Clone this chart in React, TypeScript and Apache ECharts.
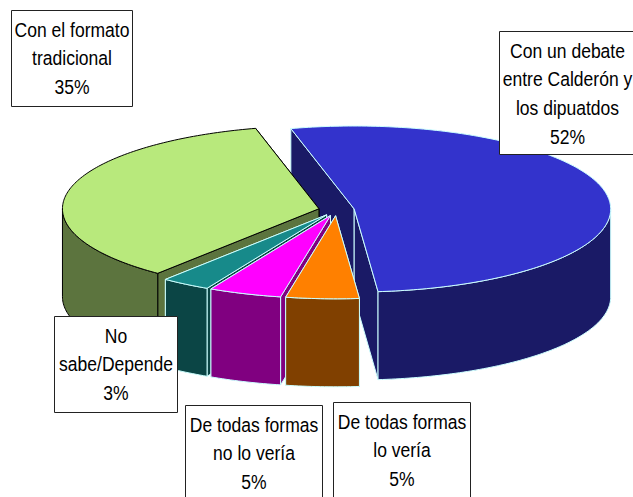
import React, { useEffect, useRef } from "react";
import * as echarts from "echarts";

const names = [
  "Con un debate\nentre Calderón y\nlos dipuatdos",
  "De todas formas\nlo vería",
  "De todas formas\nno lo vería",
  "No\nsabe/Depende",
  "Con el formato\ntradicional",
];
const values = [52.49, 4.6, 4.6, 3.1, 35.21];
const topColors = ["#3333CC", "#FF8000", "#FF00FF", "#178A8A", "#B8E97C"];
const sideColors = ["#1A1A66", "#804000", "#800080", "#0B4545", "#5C743E"];
const edgeColors = ["#CCFFFF", "#CCFFFF", "#CCFFFF", "#CCFFFF", "#000000"];
const drawOrder = [0, 4, 3, 2, 1];
const boxes = [
  [499.5, 31.5, 150, 123],
  [333.5, 402.5, 137, 110],
  [185.5, 405.5, 137, 110],
  [54.5, 316.5, 123, 96],
  [11.5, 10.5, 121, 96],
];

const CX = 336.5;
const CY = 210;
const RX = 256.5;
const RY = 83;
const DEPTH = 88;
const EXPLODE = 0.07;
const START = 104.3;
const total = values.reduce((a, b) => a + b, 0);

function pt(c: number[], deg: number, dy = 0) {
  const r = (deg * Math.PI) / 180;
  return [c[0] + RX * Math.cos(r), c[1] - RY * Math.sin(r) + dy];
}
function arc(c: number[], from: number, to: number, dy = 0) {
  const n = Math.max(2, Math.ceil(Math.abs(from - to)));
  const out: number[][] = [];
  for (let i = 0; i <= n; i++) out.push(pt(c, from + ((to - from) * i) / n, dy));
  return out;
}

function sliceGeometry(index: number) {
  let before = 0;
  for (let i = 0; i < index; i++) before += values[i];
  const a0 = START - (before / total) * 360;
  const a1 = a0 - (values[index] / total) * 360;
  const mid = ((a0 + a1) / 2) * (Math.PI / 180);
  const c = [CX + EXPLODE * RX * Math.cos(mid), CY - EXPLODE * RY * Math.sin(mid)];
  return { a0, a1, c };
}

function renderSlice(params: any) {
  const index = drawOrder[params.dataIndex];
  const { a0, a1, c } = sliceGeometry(index);
  const side = sideColors[index];
  const edge = edgeColors[index];
  const poly = (points: number[][], fill: string) => ({
    type: "polygon",
    shape: { points },
    style: { fill, stroke: edge, lineWidth: 1, lineJoin: "round" },
  });
  const children: any[] = [];
  const wall = (deg: number) => {
    const p = pt(c, deg);
    return poly([c, p, [p[0], p[1] + DEPTH], [c[0], c[1] + DEPTH]], side);
  };
  // cut faces, the one further back first
  const cuts = [a0, a1].sort((p, q) => pt(c, p)[1] - pt(c, q)[1]);
  cuts.forEach((deg) => children.push(wall(deg)));
  // the outer wall is only visible on the front half of the ellipse
  for (const k of [0, -360]) {
    const hi = Math.min(a0, k);
    const lo = Math.max(a1, -180 + k);
    if (hi > lo) children.push(poly([...arc(c, hi, lo), ...arc(c, lo, hi, DEPTH)], side));
  }
  children.push(poly([c, ...arc(c, a0, a1)], topColors[index]));
  return { type: "group", children };
}

export default function App() {
  const ref = useRef<HTMLDivElement>(null);
  useEffect(() => {
    document.body.style.margin = "0";
    const chart = echarts.init(ref.current!, null, { renderer: "svg" });
    const graphic: any[] = [];
    names.forEach((name, i) => {
      const [x, y, w, h] = boxes[i];
      graphic.push({
        type: "rect",
        z: 100,
        shape: { x, y, width: w, height: h },
        style: { fill: "#FFFFFF", stroke: "#222222", lineWidth: 1 },
      });
      graphic.push({
        type: "text",
        z: 101,
        x: i === 0 ? 567.5 : x + w / 2,
        y: y + 5,
        scaleX: 0.855,
        style: {
          text: `${name}\n${Math.round(values[i])}%`,
          font: '20.5px "Liberation Sans"',
          fill: "#000000",
          align: "center",
          verticalAlign: "top",
          lineHeight: 28.6,
        },
      });
    });
    chart.setOption({
      animation: false,
      backgroundColor: "#FFFFFF",
      graphic,
      series: [
        {
          type: "custom",
          coordinateSystem: "none",
          renderItem: renderSlice,
          silent: true,
          data: drawOrder.map((i) => values[i]),
        },
      ],
    });
    return () => chart.dispose();
  }, []);
  return <div ref={ref} style={{ width: 633, height: 497, position: "absolute", left: 0, top: 0 }} />;
}
